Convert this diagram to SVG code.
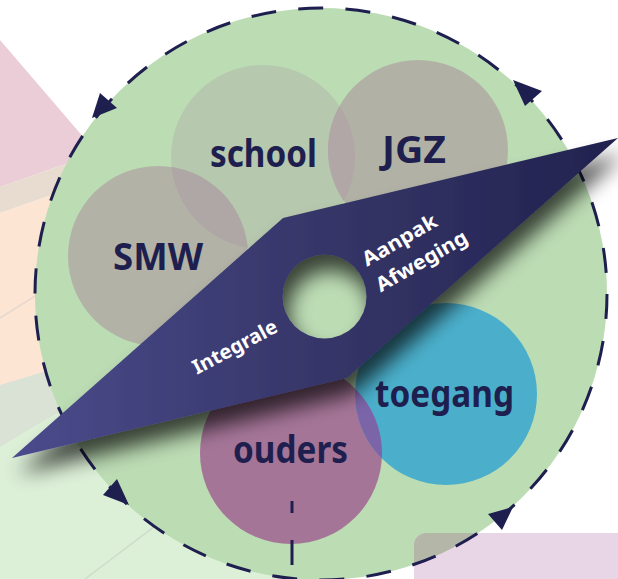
<svg xmlns="http://www.w3.org/2000/svg" width="618" height="579" viewBox="0 0 618 579">
<style>
.lbl{font-family:"Noto Sans","Open Sans","DejaVu Sans",sans-serif;font-weight:700;fill:#1e1f4f;font-size:38px}
.bt{font-family:"Noto Sans","Open Sans","DejaVu Sans",sans-serif;font-weight:700;fill:#ffffff;font-size:20px;text-anchor:middle}
.dash{fill:none;stroke:#1e1f4f;stroke-width:3}
.arrow{fill:#1e1f4f}
</style>
<defs>
<linearGradient id="bandGrad" gradientUnits="userSpaceOnUse" x1="12" y1="0" x2="618" y2="0">
<stop offset="0" stop-color="#4b4b8d"/>
<stop offset="0.5" stop-color="#363669"/>
<stop offset="1" stop-color="#22224f"/>
</linearGradient>
<filter id="shadow" x="-20%" y="-30%" width="150%" height="180%">
<feGaussianBlur in="SourceAlpha" stdDeviation="10"/>
<feOffset dx="6" dy="16" result="o"/>
<feComponentTransfer><feFuncA type="linear" slope="0.7"/></feComponentTransfer>
<feMerge><feMergeNode/><feMergeNode in="SourceGraphic"/></feMerge>
</filter>
<clipPath id="clipBig"><circle cx="321" cy="294" r="286"/></clipPath>
<clipPath id="clipSchool"><circle cx="263" cy="157" r="92"/></clipPath>
<clipPath id="clipToegang"><circle cx="446" cy="394" r="91"/></clipPath>
</defs>

<g id="background">
<rect width="618" height="579" fill="#ffffff"/>
<polygon points="0,213 320,101 320,579 0,579" fill="#fde5d4"/>
<polygon points="0,40 97,153 0,187" fill="#ebcdd8"/>
<polygon points="0,187 160,131 160,157 0,213" fill="#e8dbcf"/>
<polygon points="0,385 320,289 320,579 0,579" fill="#d9e2d4"/>
<polygon points="0,447 320,255 320,579 0,579" fill="#dcefd7"/>
<line x1="0" y1="318" x2="120" y2="243" stroke="#e6d8cc" stroke-width="1.5"/>
<line x1="85" y1="579" x2="200" y2="492" stroke="#cfdccb" stroke-width="1.5"/>
</g>

<g id="wheel">
<circle cx="321" cy="294" r="286" fill="#bcdcb4"/>
</g>

<g id="box">
<rect x="414" y="533" width="230" height="80" rx="12" fill="#e8d5e6"/>
<rect x="414" y="533" width="230" height="80" rx="12" fill="#b4b6a8" clip-path="url(#clipBig)"/>
</g>

<g id="school">
<circle cx="263" cy="157" r="92" fill="#b6c8ad"/>
</g>
<g id="JGZ">
<circle cx="418" cy="150" r="90" fill="#b1b2a5"/>
<circle cx="418" cy="150" r="90" fill="#b0a7a6" clip-path="url(#clipSchool)"/>
<text class="lbl" x="382" y="163" textLength="64" lengthAdjust="spacingAndGlyphs">JGZ</text>
</g>
<g id="SMW">
<circle cx="158" cy="256" r="90" fill="#b2b3a6"/>
<circle cx="158" cy="256" r="90" fill="#aea7a5" clip-path="url(#clipSchool)"/>
<text class="lbl" x="113" y="270" textLength="90" lengthAdjust="spacingAndGlyphs">SMW</text>
</g>
<g id="school-label">
<text class="lbl" x="210" y="167" textLength="107" lengthAdjust="spacingAndGlyphs">school</text>
</g>

<g id="ouders">
<circle cx="291" cy="453" r="91" fill="#a57598"/>
<text class="lbl" x="233" y="463" textLength="115" lengthAdjust="spacingAndGlyphs">ouders</text>
</g>
<g id="toegang">
<circle cx="446" cy="394" r="91" fill="#4bafcb"/>
<circle cx="291" cy="453" r="91" fill="#7b64a8" clip-path="url(#clipToegang)"/>
<text class="lbl" x="375" y="407" textLength="139" lengthAdjust="spacingAndGlyphs">toegang</text>
</g>

<g id="connectors">
<circle class="dash" cx="321" cy="294" r="286" stroke-dasharray="25 22.3"/>
<path class="dash" d="M292,501 V513 M292,540 V565"/>
<polygon class="arrow" points="100,93 117,108 92,118"/>
<polygon class="arrow" points="513,80 542,91 525,106"/>
<polygon class="arrow" points="117,479 129,505 103,495"/>
<polygon class="arrow" points="513,507 502,530 488,514"/>
</g>

<g id="band" filter="url(#shadow)">
<path d="M12,458 L283,218 L618,138 L347,378 Z M282.5,296.5 a42,42 0 1,0 84,0 a42,42 0 1,0 -84,0 Z" fill="url(#bandGrad)" fill-rule="evenodd"/>
</g>
<g id="band-text">
<text class="bt" transform="translate(238,353) rotate(-28)" textLength="93" lengthAdjust="spacingAndGlyphs">Integrale</text>
<text class="bt" transform="translate(403,246) rotate(-30)" textLength="83" lengthAdjust="spacingAndGlyphs">Aanpak</text>
<text class="bt" transform="translate(425,267) rotate(-30)" textLength="102" lengthAdjust="spacingAndGlyphs">Afweging</text>
</g>
</svg>
